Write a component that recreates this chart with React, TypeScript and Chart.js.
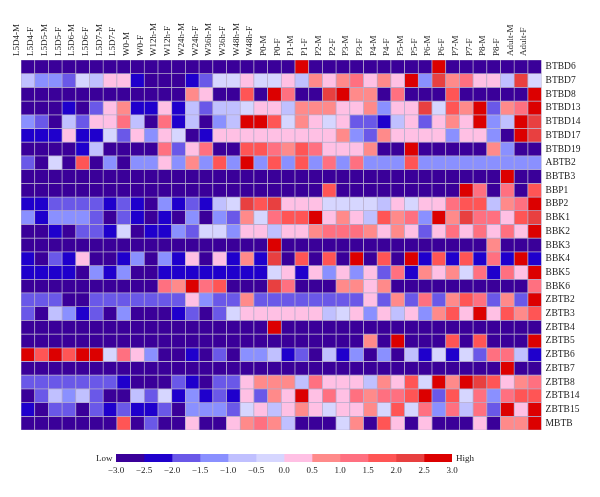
import React, { useEffect, useRef } from "react";
import { Chart, registerables } from "chart.js";

Chart.register(...registerables);

const columns = ["L5D4-M","L5D4-F","L5D5-M","L5D5-F","L5D6-M","L5D6-F","L5D7-M","L5D7-F","W0-M","W0-F","W12h-M","W12h-F","W24h-M","W24h-F","W36h-M","W36h-F","W48h-M","W48h-F","P0-M","P0-F","P1-M","P1-F","P2-M","P2-F","P3-M","P3-F","P4-M","P4-F","P5-M","P5-F","P6-M","P6-F","P7-M","P7-F","P8-M","P8-F","Adult-M","Adult-F"];

const genes = ["BTBD6","BTBD7","BTBD8","BTBD13","BTBD14","BTBD17","BTBD19","ABTB2","BBTB3","BBP1","BBP2","BBK1","BBK2","BBK3","BBK4","BBK5","BBK6","ZBTB2","ZBTB3","ZBTB4","ZBTB5","ZBTB6","ZBTB7","ZBTB8","ZBTB14","ZBTB15","MBTB"];

const BTBD6 = [-2.8,-2.8,-2.8,-2.8,-2.8,-2.8,-2.8,-2.8,-2.8,-2.8,-2.8,-2.8,-2.8,-2.8,-2.8,-2.8,-2.8,-2.8,-2.8,-2.8,2.8,-2.8,-2.8,-2.8,-2.8,-2.8,-2.8,-2.8,-2.8,-2.8,2.8,-2.8,-2.8,-2.8,-2.8,-2.8,-2.8,-2.8];
const BTBD7 = [-.8,-1.3,-1.3,-1.8,-.3,-.8,.3,.3,-2.3,-2.8,-2.8,-2.8,-2.3,-1.8,-.3,-.3,.3,-.3,-.3,.3,-.8,.8,.3,.8,1.3,.3,.8,.3,2.8,-1.3,2.3,.8,1.3,.3,.3,-.8,2.3,-.3];
const BTBD8 = [-2.8,-2.8,-2.8,-2.8,-2.8,-2.8,-2.8,-2.8,-2.8,-2.8,-2.8,-2.8,.8,.3,-2.8,-2.8,1.8,-2.8,2.8,1.3,-2.8,-2.8,2.3,2.8,.8,.8,-2.8,1.3,-2.8,-2.8,-2.8,1.8,-2.8,-2.8,-2.8,-2.8,-2.8,2.8];
const BTBD13 = [-2.8,-2.8,-2.8,-2.3,-2.8,-1.8,.3,.8,-2.3,-2.3,.3,-2.3,-.8,-1.8,-.8,-.8,-.3,.3,.3,-.8,.8,.8,.8,.3,.3,.8,-1.3,.3,.3,2.3,-.3,1.8,.8,2.8,-1.8,.8,1.3,2.8];
const BTBD14 = [-1.3,-1.8,-2.8,-.8,-1.8,.3,.3,1.3,-.8,-2.8,1.3,-2.3,-.8,-2.8,-1.3,-.8,2.8,2.8,1.8,-.3,.8,.3,-.3,.3,-1.8,-1.8,-2.3,-.8,.3,-1.8,.3,.8,.3,2.8,-1.3,-.8,2.8,2.3];
const BTBD17 = [-2.3,-2.3,-2.3,.3,-2.3,-2.3,-.3,-1.8,.3,-1.3,.3,-.3,-2.8,-2.3,.3,.3,.3,.3,.3,.3,.3,.3,.3,.8,-1.3,-1.8,.8,.3,.3,.3,.3,-1.3,.3,.3,-1.3,-2.8,2.8,2.3];
const BTBD19 = [-2.8,-2.8,-2.8,-2.8,-2.3,-.8,-2.8,-2.8,-2.8,-2.8,1.3,-1.8,.3,1.3,-2.8,-2.8,1.8,1.8,1.3,.8,1.8,1.3,.3,.3,.3,.8,-2.8,-2.8,2.8,-2.8,-2.8,-2.8,-2.8,-2.8,.8,-1.3,-2.8,-2.8];
const ABTB2 = [-1.8,-2.8,-.3,-2.8,1.8,-2.8,-1.3,-2.8,-1.3,-1.3,.3,-1.3,.8,-1.3,1.8,-1.3,2.8,-1.3,1.8,-1.3,1.8,-1.3,1.3,-1.3,1.3,-1.3,-1.3,-1.3,1.8,-1.3,-1.3,-1.3,-1.3,-1.3,-1.3,-1.3,-1.3,-1.3];
const BBTB3 = [-2.8,-2.8,-2.8,-2.8,-2.8,-2.8,-2.8,-2.8,-2.8,-2.8,-2.8,-2.8,-2.8,-2.8,-2.8,-2.8,-2.8,-2.8,-2.8,-2.8,-2.8,-2.8,-2.8,-2.8,-2.8,-2.8,-2.8,-2.8,-2.8,-2.8,-2.8,-2.8,-2.8,-2.8,-2.8,2.8,-2.8,-2.8];
const BBP1 = [-2.8,-2.8,-2.8,-2.8,-2.8,-2.8,-2.8,-2.8,-2.8,-2.8,-2.8,-2.8,-2.8,-2.8,-2.8,-2.8,-2.8,-2.8,-2.8,-2.8,-2.8,-2.8,1.8,-2.8,-2.8,-2.8,-2.8,-2.8,-2.8,-2.8,-2.8,-2.8,2.8,1.3,-2.8,1.3,-2.8,1.8];
const BBP2 = [-2.3,-2.3,-1.8,-1.8,-1.8,-1.8,-2.3,-1.8,-2.3,-2.8,-1.3,-2.3,-1.8,-2.3,-.8,-.3,2.3,1.8,2.3,.3,.3,.3,-.3,-.3,-.3,-.3,-.8,.3,-.3,.3,.3,1.3,1.8,1.8,-.8,.8,1.3,2.8];
const BBK1 = [-1.3,-2.3,-1.3,-1.3,-1.3,-1.8,-2.8,-1.8,-2.3,-2.8,-2.3,-2.8,-1.3,-2.8,-1.3,-1.8,.8,-.3,1.3,1.8,1.8,2.8,.3,.8,.3,-.8,1.8,.8,1.3,-1.3,2.8,.8,2.3,1.3,1.3,.3,1.8,2.3];
const BBK2 = [-2.8,-2.8,-2.3,-2.8,-1.8,-1.8,-2.3,-.3,-2.8,-2.3,-2.3,-1.3,-1.8,-.3,-.3,-1.3,.3,.3,-.8,.3,.3,.8,1.3,1.3,1.3,.8,.3,.8,.3,-1.8,.3,1.3,.3,1.3,.3,1.3,.3,2.8];
const BBK3 = [-2.8,-2.8,-2.8,-2.8,-2.8,-2.8,-2.8,-2.8,-2.8,-2.8,-2.8,-2.8,-2.8,-2.8,-2.8,-2.8,-2.8,-2.8,2.8,-2.8,-2.8,-2.8,-2.8,-2.8,-2.8,-2.8,-2.8,-2.8,-2.8,-2.8,-2.8,-2.8,-2.8,-2.8,.8,-2.8,-2.8,-2.8];
const BBK4 = [-2.3,-2.8,-1.8,-2.3,.3,-2.8,-2.8,-2.3,-1.3,-2.8,-1.3,-2.3,.3,-2.8,.3,-2.3,.8,-2.3,2.3,-2.8,1.8,-2.8,1.8,-2.8,2.8,-2.8,1.8,-2.8,2.8,-2.3,1.8,-2.3,1.8,-2.3,1.3,-2.3,2.8,-2.3];
const BBK5 = [-2.3,-2.3,-2.3,-2.3,-2.8,-1.3,-2.3,-1.3,-2.8,-2.8,-2.3,-2.3,-2.3,-2.3,-2.3,-2.3,-2.3,-2.3,-.3,.3,-2.3,.3,-1.3,.3,-1.3,.3,-1.8,1.3,-2.3,.8,.3,.8,-.3,1.3,-2.3,1.3,.3,2.8];
const BBK6 = [-2.8,-2.8,-2.8,-2.8,-2.8,-2.8,-2.8,-2.8,-2.8,-2.8,1.3,.8,2.8,1.3,1.8,-2.8,-2.8,-2.8,2.3,1.3,-2.8,-2.8,-2.8,.8,.8,.3,.8,-2.8,-2.8,-2.8,-2.8,-2.8,-2.8,-2.8,-2.8,-2.8,-2.8,1.3];
const ZBTB2 = [-1.8,-1.8,-1.8,-2.8,-2.8,-1.8,-1.8,-1.8,-1.8,-1.8,-1.8,-1.8,.3,-1.3,-1.8,-1.8,.8,-1.8,-1.8,-1.8,-1.8,-1.8,-1.8,-1.8,-1.8,.3,-1.8,.8,-1.8,1.3,-1.8,.8,1.8,1.3,-1.8,.8,-1.8,2.8];
const ZBTB3 = [-1.8,-2.8,-.8,-1.3,-2.3,-1.8,-2.8,-1.3,-2.8,-2.8,-2.8,-2.3,-1.8,-2.8,-1.8,-.3,.3,.3,.3,.3,.3,.3,-.8,-.3,.3,-1.3,.3,-.8,.3,-1.3,.8,1.8,.3,2.8,.3,1.8,.8,1.8];
const ZBTB4 = [-2.8,-2.8,-2.8,-2.8,-2.8,-2.8,-2.8,-2.8,-2.8,-2.8,-2.8,-2.8,-2.8,-2.8,-2.8,-2.8,-2.8,-2.8,2.8,-2.8,-2.8,-2.8,-2.8,-2.8,-2.8,-2.8,-2.8,-2.8,-2.8,-2.8,-2.8,-2.8,-2.8,-2.8,-2.8,-2.8,-2.8,-2.8];
const ZBTB5 = [-2.8,-2.8,-2.8,-2.8,-2.8,-2.8,-2.8,-2.8,-2.8,-2.8,-2.8,-2.8,-2.8,-2.8,-2.8,-2.8,-2.8,-2.8,-2.8,-2.8,-2.8,-2.8,-2.8,-2.8,-2.8,.8,-2.8,2.8,-2.8,-2.8,-2.8,1.8,-2.8,1.8,-2.8,-2.8,-2.8,2.8];
const ZBTB6 = [2.8,1.8,2.8,1.8,2.8,2.8,-.3,1.3,.3,-1.3,-2.8,-2.8,-2.3,-2.8,-1.8,-2.8,-1.3,-1.3,-.8,-2.3,-1.8,-2.8,-.8,-2.3,-1.3,-2.8,-1.3,-2.8,-.8,-2.3,-.3,-2.3,-.3,-1.8,1.3,1.3,-.8,-2.3];
const ZBTB7 = [-2.8,-2.8,-2.8,-2.8,-2.8,-2.8,-2.8,-2.8,-2.8,-2.8,-2.8,-2.8,-2.8,-2.8,-2.8,-2.8,-2.8,-2.8,-2.8,-2.8,-2.8,-2.8,-2.8,-2.8,-2.8,-2.8,-2.8,-2.8,-2.8,-2.8,-2.8,-2.8,-2.8,-2.8,-2.8,2.8,-2.8,-2.8];
const ZBTB8 = [-1.8,-1.8,-1.8,-1.8,-1.8,-1.8,-1.8,-2.3,-2.8,-2.8,-2.8,-1.8,-2.3,-2.8,-1.8,-1.8,.3,.8,.8,.8,-.8,1.3,.3,.3,.3,-.8,.8,.3,1.8,-.3,2.8,.8,2.8,2.3,1.8,.3,.8,1.3];
const ZBTB14 = [-2.8,-1.8,-.8,-1.3,-.8,-1.8,-2.8,-2.8,-.8,-1.8,-.3,-2.3,-1.3,-2.3,-1.8,-2.3,.3,-1.8,.8,.3,2.8,.3,1.3,.3,1.3,.8,1.3,1.3,1.8,2.8,-1.8,1.8,-.3,1.3,-1.3,1.3,1.8,1.8];
const ZBTB15 = [-2.3,-2.8,-1.8,-1.8,-2.8,-1.8,-2.3,-1.8,-2.3,-2.3,-1.8,-2.8,-1.3,-1.3,-1.3,-1.8,-.3,.3,-.8,.3,.8,.3,-.3,.3,.3,.8,-.3,1.8,-.3,1.3,-1.3,1.3,-.8,1.3,-1.8,2.8,.3,2.8];
const MBTB = [-2.8,-2.8,-2.8,-2.8,-2.8,-2.8,-2.8,1.8,-2.8,-1.8,-2.8,-2.8,.3,-2.8,-2.8,.3,.8,1.3,.8,-.8,-2.8,-2.8,-2.8,-.3,.8,-2.8,1.8,.3,-2.8,.3,-2.8,-2.8,-2.8,.3,-2.8,.8,.8,2.8];

const heatRows = [BTBD6,BTBD7,BTBD8,BTBD13,BTBD14,BTBD17,BTBD19,ABTB2,BBTB3,BBP1,BBP2,BBK1,BBK2,BBK3,BBK4,BBK5,BBK6,ZBTB2,ZBTB3,ZBTB4,ZBTB5,ZBTB6,ZBTB7,ZBTB8,ZBTB14,ZBTB15,MBTB];

const legendEdges = [-3,-2.5,-2,-1.5,-1,-0.5,0,0.5,1,1.5,2,2.5,3];
const palette = ["#3a0099","#1f00cc","#6a58e8","#8a90ff","#c0c0ff","#d6d6ff","#ffc0e4","#ff8a8a","#ff7080","#ff5555","#e84040","#dc0000"];

const serif = "'Liberation Serif'";
const colorOf = (v: number) => palette[Math.max(0, Math.min(11, Math.floor((v + 3) / 0.5)))];

export default function App() {
  const heatRef = useRef<HTMLCanvasElement>(null);
  const legendRef = useRef<HTMLCanvasElement>(null);

  useEffect(() => {
    const n = genes.length;
    const heat = new Chart(heatRef.current!, {
      type: "bar",
      data: {
        labels: columns,
        datasets: heatRows.map((row, r) => ({
          label: genes[r],
          data: row.map((): [number, number] => [n - r - 1, n - r]),
          backgroundColor: row.map(colorOf),
          borderColor: "#b4aacb",
          borderWidth: 0.7,
          borderSkipped: false,
          barPercentage: 1,
          categoryPercentage: 1,
          grouped: false,
        })),
      } as any,
      options: {
        responsive: false,
        animation: false,
        layout: { padding: { left: 21, top: 0, right: 0, bottom: 67 } },
        plugins: { legend: { display: false }, tooltip: { enabled: false } },
        scales: {
          x: {
            type: "category",
            position: "top",
            grid: { display: false, drawTicks: false },
            border: { display: false },
            afterFit: (s: any) => { s.height = 60; },
            ticks: {
              autoSkip: false, minRotation: 90, maxRotation: 90, padding: 4,
              color: "#222", font: { family: serif, size: 9 },
            },
          },
          y: { type: "linear", min: 0, max: n, display: false, stacked: false },
          genes: {
            type: "category",
            labels: genes,
            position: "right",
            offset: true,
            grid: { display: false, drawTicks: false },
            border: { display: false },
            afterFit: (s: any) => { s.width = 58.4; },
            ticks: { autoSkip: false, padding: 4, color: "#222", font: { family: serif, size: 9.5 } },
          },
        },
      } as any,
    });

    const legend = new Chart(legendRef.current!, {
      type: "bar",
      data: {
        labels: ["scale"],
        datasets: palette.map((c, i) => ({
          data: [[legendEdges[i], legendEdges[i + 1]] as [number, number]],
          backgroundColor: c,
          borderWidth: 0,
          barPercentage: 1,
          categoryPercentage: 1,
          grouped: false,
        })),
      } as any,
      options: {
        indexAxis: "y",
        responsive: false,
        animation: false,
        layout: { padding: { left: 116, top: 14, right: 148, bottom: 0 } },
        plugins: { legend: { display: false }, tooltip: { enabled: false } },
        scales: {
          y: { display: false },
          x: {
            type: "linear", min: -3, max: 3,
            grid: { display: false, drawTicks: false },
            border: { display: false },
            afterFit: (s: any) => { s.height = 35; },
            ticks: {
              stepSize: 0.5, padding: 3, autoSkip: false, maxRotation: 0,
              color: "#222", font: { family: serif, size: 9 },
              callback: (v: any) => (Number(v) < 0 ? "\u2212" : "") + Math.abs(Number(v)).toFixed(1),
            },
          },
        },
      } as any,
    });

    return () => { heat.destroy(); legend.destroy(); };
  }, []);

  const label: React.CSSProperties = {
    position: "absolute", top: 452, fontFamily: serif, fontSize: 9, lineHeight: "12px", color: "#222",
  };

  return (
    <div style={{ position: "fixed", left: 0, top: 0, width: 600, height: 497, background: "#fff", overflow: "hidden" }}>
      <canvas ref={heatRef} width={600} height={497} style={{ position: "absolute", left: 0, top: 0 }} />
      <canvas ref={legendRef} width={600} height={57} style={{ position: "absolute", left: 0, top: 440 }} />
      <span style={{ ...label, left: 96 }}>Low</span>
      <span style={{ ...label, left: 456 }}>High</span>
    </div>
  );
}
